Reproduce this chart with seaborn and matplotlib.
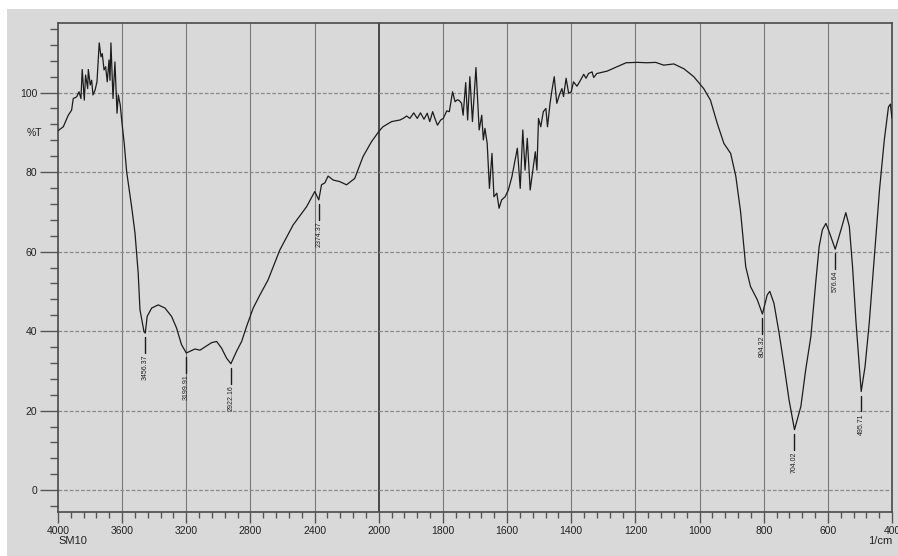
import numpy as np
import matplotlib
matplotlib.use("Agg")
import matplotlib.pyplot as plt
import seaborn as sns
from matplotlib.patches import Rectangle
from matplotlib.ticker import FixedLocator, NullFormatter

# ---- data ----
wavenumber = [
    4000, 3967, 3936, 3915, 3905, 3884, 3869, 3857, 3849, 3836, 3828, 3815, 3811,
    3799, 3790, 3782, 3769, 3757, 3743, 3732, 3724, 3713, 3703, 3693, 3682, 3676,
    3670, 3657, 3645, 3632, 3624, 3612, 3603, 3587, 3572, 3541, 3520, 3500, 3489,
    3464, 3456, 3444, 3416, 3375, 3333, 3292, 3261, 3230, 3200, 3178, 3146, 3115,
    3084, 3042, 3011, 2980, 2949, 2922, 2887, 2855, 2824, 2783, 2741, 2690, 2617,
    2534, 2450, 2399, 2374, 2357, 2336, 2316, 2284, 2243, 2201, 2150, 2098, 2046,
    2000, 1987, 1960, 1934, 1924, 1913, 1903, 1891, 1880, 1870, 1859, 1849, 1841,
    1832, 1825, 1817, 1807, 1799, 1788, 1780, 1770, 1762, 1755, 1749, 1742, 1737,
    1729, 1723, 1716, 1708, 1697, 1687, 1679, 1674, 1669, 1662, 1655, 1647, 1641,
    1632, 1625, 1617, 1606, 1596, 1585, 1575, 1568, 1559, 1551, 1544, 1537, 1528,
    1521, 1512, 1507, 1502, 1495, 1487, 1479, 1474, 1466, 1460, 1453, 1445, 1437,
    1429, 1424, 1416, 1408, 1400, 1393, 1382, 1374, 1361, 1354, 1346, 1335, 1330,
    1320, 1288, 1257, 1229, 1195, 1163, 1137, 1112, 1080, 1049, 1018, 987, 966,
    945, 924, 903, 887, 872, 856, 841, 820, 804, 789, 781, 768, 752, 736, 721,
    704, 684, 669, 653, 637, 627, 617, 606, 596, 577, 559, 544, 533, 523, 512,
    502, 496, 484, 471, 455, 439, 424, 411, 405, 400,
]
transmittance = [
    90.4, 91.4, 94.3, 95.6, 98.5, 98.9, 100.2, 98.5, 105.8, 98.1, 104.4, 101.0, 105.8,
    101.9, 103.1, 99.4, 100.6, 102.7, 112.5, 109.0, 109.8, 105.7, 106.5, 102.7, 108.2, 103.1,
    112.5, 98.5, 107.7, 94.8, 99.4, 96.9, 93.1, 87.2, 80.1, 71.3, 64.7, 54.6, 45.4,
    39.9, 39.5, 43.7, 45.8, 46.6, 45.8, 43.7, 40.8, 36.6, 34.5, 34.9, 35.5, 35.2,
    36.0, 37.1, 37.4, 35.7, 33.2, 31.8, 34.9, 37.4, 41.2, 45.8, 49.1, 52.9, 60.4,
    66.7, 71.3, 75.1, 73.0, 76.8, 77.3, 79.0, 78.0, 77.6, 76.8, 78.4, 83.9, 87.6,
    90.2, 91.4, 92.7, 93.1, 93.5, 94.1, 93.5, 94.9, 93.5, 94.9, 93.3, 94.8, 92.7,
    95.2, 93.5, 91.8, 93.1, 93.5, 95.4, 95.2, 100.2, 97.7, 98.2, 98.0, 97.3, 94.3,
    102.5, 93.1, 104.0, 92.7, 106.3, 90.6, 94.3, 88.1, 91.0, 87.2, 75.9, 84.7, 73.8,
    74.7, 70.9, 73.0, 73.8, 75.5, 78.8, 83.0, 86.0, 75.9, 90.6, 80.5, 88.5, 75.5,
    79.7, 85.1, 80.5, 93.5, 91.4, 95.2, 96.0, 91.4, 97.3, 100.6, 104.0, 97.3, 99.4,
    101.0, 99.0, 103.6, 99.8, 100.2, 102.7, 101.6, 102.7, 104.6, 103.6, 104.8, 105.2, 103.8,
    104.8, 105.4, 106.5, 107.5, 107.6, 107.5, 107.6, 106.9, 107.2, 106.0, 104.0, 101.0, 98.1,
    92.3, 87.2, 84.7, 79.0, 70.0, 56.2, 51.2, 47.9, 44.3, 49.1, 50.0, 47.0, 39.5, 31.1, 22.7,
    15.2, 21.1, 30.3, 38.6, 52.9, 61.3, 65.5, 67.1, 65.0, 60.6, 65.5, 69.8, 66.3, 56.2, 42.0,
    31.1, 24.8, 31.1, 42.0, 58.7, 75.5, 88.1, 96.4, 97.1, 93.5,
]
peak_wavenumber = [3456.37, 3199.91, 2922.16, 2374.37, 804.32, 704.02, 576.64, 495.71]
peak_transmittance = [39.5, 34.5, 31.8, 73.0, 44.3, 15.2, 60.6, 24.8]
peak_labels = ["3456.37", "3199.91", "2922.16", "2374.37", "804.32", "704.02", "576.64", "495.71"]
x_major_ticks = [4000, 3600, 3200, 2800, 2400, 2000, 1800, 1600, 1400, 1200, 1000, 800, 600, 400]
y_major_ticks = [0, 20, 40, 60, 80, 100]

# ---- style ----
sns.set_theme(style="white")
plt.rcParams["font.family"] = ["Liberation Sans", "DejaVu Sans"]

W, H = 898, 556
fig = plt.figure(figsize=(W / 100, H / 100), dpi=100, facecolor="white")
fig.patches.append(Rectangle((7 / W, 0), 1 - 7 / W, 1 - 9 / H, transform=fig.transFigure,
                             facecolor="#d9d9d9", edgecolor="none", zorder=-10))
ax = fig.add_axes([58 / W, 1 - 512 / H, (892 - 58) / W, (512 - 23) / H])
ax.set_facecolor("#d9d9d9")
ax.set_zorder(2)


# FTIR x axis: 4000-2000 at half the scale of 2000-400
def fwd(w):
    w = np.asarray(w, dtype=float)
    return np.where(w > 2000, 2000 + (w - 2000) * 0.5, w)


def inv(u):
    u = np.asarray(u, dtype=float)
    return np.where(u > 2000, 2000 + (u - 2000) * 2.0, u)


ax.set_xscale("function", functions=(fwd, inv))

sns.lineplot(x=wavenumber, y=transmittance, ax=ax, color="#1c1c1c", linewidth=0.9,
             estimator=None, sort=False, zorder=5)
ax.set_xlim(4000, 400)
ax.set_ylim(-5.5, 117.5)

# grid
for xv in x_major_ticks:
    if xv in (4000, 400):
        continue
    ax.axvline(xv, color="#3c3c3c" if xv == 2000 else "#7a7a7a",
               lw=1.3 if xv == 2000 else 0.8, zorder=1)
for yv in y_major_ticks:
    ax.axhline(yv, color="#8a8a8a", lw=0.9, ls=(0, (3, 1.5)), zorder=1)

# ticks
ax.xaxis.set_major_locator(FixedLocator(x_major_ticks))
minor_x = list(range(4000, 2000, -80)) + list(range(2000, 400, -40))
ax.xaxis.set_minor_locator(FixedLocator(minor_x))
ax.xaxis.set_minor_formatter(NullFormatter())
ax.set_xticklabels([str(v) for v in x_major_ticks])
ax.yaxis.set_major_locator(FixedLocator(y_major_ticks))
ax.yaxis.set_minor_locator(FixedLocator(list(range(-4, 117, 4))))
ax.yaxis.set_minor_formatter(NullFormatter())
ax.tick_params(axis="y", which="major", length=13, width=1, color="#555555",
               direction="out", pad=2, labelsize=7.5, labelcolor="#222222", left=True)
ax.tick_params(axis="y", which="minor", length=6, width=1, color="#555555",
               direction="out", left=True)
ax.tick_params(axis="x", which="major", length=8, width=1, color="#555555",
               direction="out", pad=2, labelsize=7.5, labelcolor="#222222", bottom=True)
ax.tick_params(axis="x", which="minor", length=4, width=1, color="#555555",
               direction="out", bottom=True)

for s in ax.spines.values():
    s.set_color("#4a4a4a")
    s.set_linewidth(1.2)
    s.set_visible(True)

ax.set_xlabel("")
ax.set_ylabel("")

# peak annotations
for pw, pt, lab in zip(peak_wavenumber, peak_transmittance, peak_labels):
    ax.plot([pw, pw], [pt - 1.0, pt - 5.0], color="#1c1c1c", lw=1.0, zorder=6)
    ax.text(pw, pt - 5.4, lab, rotation=90, ha="center", va="top", fontsize=5,
            color="#222222", zorder=6)

fig.text(34 / W, 1 - 133 / H, "%T", ha="center", va="center", fontsize=7.5, color="#222222")
fig.text(58 / W, 1 - 541 / H, "SM10", ha="left", va="center", fontsize=8, color="#222222")
fig.text(892 / W, 1 - 541 / H, "1/cm", ha="right", va="center", fontsize=8, color="#222222")

fig.savefig("out.png", dpi=100, facecolor=fig.get_facecolor())
